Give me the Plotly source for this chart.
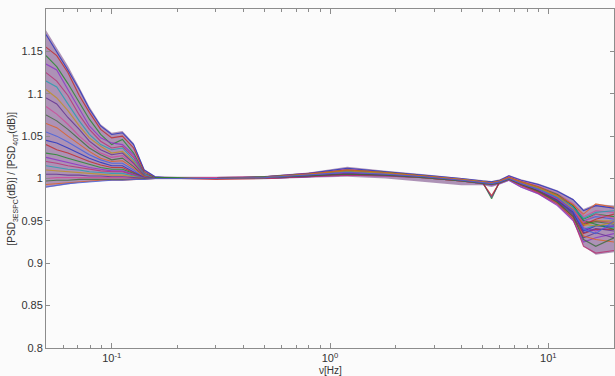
import plotly.graph_objects as go

# Frequencies (Hz)
freq = [0.05, 0.056, 0.063, 0.071, 0.079, 0.089, 0.1, 0.112, 0.126, 0.141, 0.158,
        0.2, 0.3, 0.5, 0.8, 1.2, 1.8, 2.7, 4.0, 5.0, 5.5, 6.0, 6.6, 7.5, 9.0,
        11.0, 13.0, 14.5, 16.5, 20.0]

# Ratio curves (one per recording)
s01 = [1.170,1.150,1.128,1.105,1.082,1.062,1.052,1.054,1.040,1.010,1.002, 1.000,1.000,1.002,1.006,1.012,1.008,1.004,1.000,0.997,0.996,0.998,1.003,0.998,0.993,0.985,0.975,0.962,0.968,0.965]
s02 = [1.155,1.145,1.125,1.098,1.078,1.058,1.048,1.050,1.036,1.008,1.001, 1.000,0.999,1.000,1.003,1.006,1.004,1.001,0.997,0.994,0.993,0.995,0.999,0.992,0.984,0.972,0.955,0.935,0.940,0.940]
s03 = [1.145,1.132,1.112,1.090,1.070,1.052,1.040,1.046,1.030,1.006,1.001, 1.001,1.000,1.001,1.005,1.010,1.007,1.003,0.999,0.996,0.976,0.997,1.001,0.995,0.989,0.980,0.968,0.952,0.958,0.955]
s04 = [1.135,1.128,1.105,1.082,1.062,1.048,1.042,1.040,1.028,1.005,1.000, 1.000,1.000,1.000,1.002,1.004,1.003,1.001,0.997,0.993,0.992,0.994,0.998,0.990,0.982,0.968,0.950,0.925,0.930,0.935]
s05 = [1.125,1.115,1.098,1.075,1.058,1.044,1.036,1.038,1.025,1.004,1.000, 1.000,1.001,1.002,1.006,1.009,1.006,1.003,0.999,0.996,0.995,0.997,1.002,0.996,0.990,0.979,0.966,0.948,0.950,0.948]
s06 = [1.115,1.108,1.088,1.068,1.052,1.040,1.034,1.036,1.022,1.004,1.000, 1.000,1.000,1.001,1.003,1.005,1.004,1.001,0.998,0.994,0.993,0.995,0.999,0.993,0.986,0.974,0.958,0.940,0.945,0.942]
s07 = [1.105,1.095,1.080,1.062,1.048,1.038,1.030,1.032,1.020,1.003,1.000, 1.000,1.000,1.001,1.004,1.008,1.006,1.002,0.998,0.995,0.994,0.996,1.000,0.995,0.988,0.978,0.962,0.944,0.950,0.950]
s08 = [1.095,1.088,1.072,1.058,1.044,1.034,1.028,1.030,1.018,1.003,1.000, 1.000,1.000,1.000,1.002,1.006,1.004,1.002,0.998,0.995,0.978,0.996,1.001,0.994,0.985,0.973,0.957,0.930,0.936,0.930]
s09 = [1.085,1.076,1.064,1.050,1.040,1.030,1.025,1.027,1.016,1.002,1.000, 1.000,1.001,1.002,1.005,1.011,1.007,1.003,0.999,0.996,0.995,0.997,1.002,0.997,0.991,0.982,0.970,0.955,0.962,0.960]
s10 = [1.075,1.068,1.058,1.046,1.036,1.028,1.022,1.024,1.014,1.002,1.000, 1.000,1.000,1.001,1.004,1.007,1.005,1.002,0.998,0.995,0.994,0.996,1.000,0.994,0.987,0.976,0.961,0.947,0.949,0.946]
s11 = [1.065,1.060,1.050,1.040,1.032,1.024,1.020,1.021,1.012,1.002,1.000, 1.000,1.000,1.000,1.003,1.005,1.004,1.001,0.997,0.994,0.993,0.995,0.999,0.992,0.985,0.971,0.953,0.932,0.928,0.925]
s12 = [1.055,1.050,1.043,1.035,1.028,1.022,1.018,1.018,1.010,1.001,1.000, 1.000,1.000,1.001,1.004,1.008,1.006,1.002,0.999,0.996,0.995,0.997,1.001,0.995,0.989,0.979,0.966,0.950,0.955,0.952]
s13 = [1.045,1.042,1.036,1.030,1.024,1.019,1.015,1.015,1.008,1.001,1.000, 1.000,1.000,1.001,1.005,1.009,1.006,1.003,0.998,0.995,0.994,0.996,1.000,0.994,0.986,0.974,0.960,0.938,0.944,0.944]
s14 = [1.040,1.034,1.030,1.025,1.020,1.016,1.013,1.013,1.007,1.001,1.000, 1.000,1.000,1.001,1.003,1.006,1.005,1.002,0.998,0.995,0.980,0.996,1.000,0.993,0.986,0.975,0.963,0.945,0.952,0.958]
s15 = [1.030,1.028,1.024,1.020,1.017,1.013,1.011,1.011,1.006,1.001,1.000, 1.000,1.000,1.002,1.005,1.010,1.007,1.003,0.999,0.996,0.995,0.997,1.001,0.996,0.990,0.981,0.968,0.950,0.946,0.940]
s16 = [1.025,1.022,1.019,1.016,1.013,1.011,1.009,1.009,1.005,1.001,1.000, 1.000,1.000,1.001,1.004,1.007,1.005,1.002,0.998,0.995,0.994,0.996,1.000,0.994,0.987,0.977,0.963,0.942,0.938,0.944]
s17 = [1.020,1.018,1.015,1.013,1.011,1.009,1.008,1.008,1.004,1.000,1.000, 1.000,1.000,1.000,1.002,1.004,1.003,1.001,0.997,0.994,0.993,0.995,0.999,0.992,0.983,0.970,0.952,0.920,0.912,0.915]
s18 = [1.015,1.013,1.011,1.010,1.008,1.007,1.006,1.006,1.003,1.000,1.000, 1.000,1.000,1.001,1.004,1.008,1.006,1.002,0.998,0.995,0.994,0.996,1.000,0.995,0.988,0.978,0.966,0.953,0.960,0.962]
s19 = [1.010,1.009,1.008,1.007,1.006,1.005,1.004,1.004,1.002,1.000,1.000, 1.000,1.000,1.001,1.005,1.009,1.006,1.003,0.999,0.996,0.995,0.997,1.001,0.995,0.989,0.979,0.964,0.946,0.944,0.948]
s20 = [1.005,1.005,1.004,1.004,1.003,1.003,1.002,1.002,1.001,1.000,1.000, 1.000,1.000,1.001,1.003,1.006,1.004,1.002,0.998,0.995,0.994,0.996,1.000,0.994,0.986,0.975,0.959,0.936,0.941,0.938]
s21 = [1.000,1.001,1.001,1.001,1.001,1.001,1.001,1.001,1.000,1.000,1.000, 1.000,1.000,1.001,1.004,1.007,1.005,1.002,0.998,0.995,0.994,0.996,1.000,0.994,0.987,0.976,0.962,0.948,0.958,0.953]
s22 = [0.997,0.998,0.998,0.999,0.999,0.999,0.999,0.999,0.999,1.000,1.000, 1.000,1.000,1.001,1.003,1.005,1.004,1.001,0.997,0.994,0.993,0.995,0.999,0.993,0.985,0.972,0.955,0.928,0.920,0.930]
s23 = [0.993,0.994,0.995,0.996,0.997,0.998,0.998,0.998,0.999,0.999,1.000, 1.000,1.000,1.001,1.005,1.010,1.007,1.003,0.999,0.996,0.995,0.997,1.001,0.996,0.990,0.980,0.969,0.958,0.970,0.966]
s24 = [0.990,0.992,0.994,0.995,0.996,0.997,0.998,0.998,0.999,0.999,1.000, 1.000,1.000,1.001,1.004,1.007,1.005,1.002,0.998,0.995,0.994,0.996,1.000,0.994,0.987,0.977,0.962,0.940,0.935,0.950]

# Envelope of the whole bundle of curves
env_upper = [1.175,1.155,1.133,1.108,1.085,1.064,1.054,1.056,1.042,1.011,1.003,
             1.002,1.002,1.003,1.007,1.014,1.009,1.005,1.001,0.998,0.997,0.999,1.004,0.999,0.994,0.986,0.976,0.964,0.970,0.968]
env_lower = [0.989,0.991,0.993,0.995,0.996,0.997,0.998,0.998,0.998,0.999,0.999,
             0.999,0.999,0.999,1.001,1.002,1.000,0.996,0.992,0.992,0.990,0.993,0.997,0.989,0.981,0.968,0.950,0.920,0.910,0.913]

series = [s01, s02, s03, s04, s05, s06, s07, s08, s09, s10, s11, s12,
          s13, s14, s15, s16, s17, s18, s19, s20, s21, s22, s23, s24]

y_ticks = [0.8, 0.85, 0.9, 0.95, 1.0, 1.05, 1.1, 1.15]
y_tick_labels = ["0.8", "0.85", "0.9", "0.95", "1", "1.05", "1.1", "1.15"]
x_ticks = [0.1, 1, 10]
x_tick_labels = ["10<sup>-1</sup>", "10<sup>0</sup>", "10<sup>1</sup>"]
x_minor = [0.06, 0.07, 0.08, 0.09, 0.2, 0.3, 0.4, 0.5, 0.6, 0.7, 0.8, 0.9,
           2, 3, 4, 5, 6, 7, 8, 9]

colors = ["#2030c0", "#c02828", "#1f8a2a", "#8a30c8", "#b83070", "#20a0b0",
          "#c09020", "#603090", "#d04898", "#3a6a3a", "#e06020", "#4060e0"]

FONT = "Liberation Sans, Arial, sans-serif"

fig = go.Figure()
fig.add_trace(go.Scatter(x=freq, y=env_lower, mode="lines", line=dict(width=0),
                         hoverinfo="skip", showlegend=False))
fig.add_trace(go.Scatter(x=freq, y=env_upper, mode="lines", line=dict(width=0),
                         fill="tonexty", fillcolor="rgba(110,60,125,0.55)",
                         hoverinfo="skip", showlegend=False))
for i, s in enumerate(series):
    fig.add_trace(go.Scatter(x=freq, y=s, mode="lines",
                             line=dict(color=colors[i % len(colors)], width=1.1),
                             opacity=0.8, showlegend=False))

axis_common = dict(showline=True, linecolor="#8c8c8c", linewidth=1, mirror="ticks",
                   ticks="inside", tickcolor="#8c8c8c", showgrid=False, zeroline=False,
                   automargin=False,
                   tickfont=dict(family=FONT, size=11, color="#333333"))

fig.update_layout(
    width=615, height=376,
    margin=dict(l=46, r=1, t=9, b=28),
    paper_bgcolor="#fbfbfb", plot_bgcolor="#fbfbfb",
    showlegend=False,
    xaxis=dict(type="log", range=[-1.301, 1.301], tickmode="array",
               tickvals=x_ticks, ticktext=x_tick_labels, ticklen=5,
               minor=dict(tickvals=x_minor, ticks="inside", ticklen=3, tickcolor="#8c8c8c"),
               **axis_common),
    yaxis=dict(range=[0.8, 1.2], tickmode="array", tickvals=y_ticks,
               ticktext=y_tick_labels, ticklen=4,
               **axis_common),
    annotations=[
        dict(text="ν[Hz]", xref="paper", yref="paper", x=0.5, y=-0.065,
             xanchor="center", yanchor="middle", showarrow=False,
             font=dict(family=FONT, size=10, color="#333333")),
        dict(text="[PSD<sub>3ESPC</sub>(dB)] / [PSD<sub>40T</sub>(dB)]",
             xref="paper", yref="paper", x=-0.06, y=0.5, textangle=-90,
             xanchor="center", yanchor="middle", showarrow=False,
             font=dict(family=FONT, size=10, color="#333333")),
    ],
)

fig.write_html("out.html", config={"displayModeBar": False},
               post_script="document.body.style.margin='0';document.body.style.overflow='hidden';")
